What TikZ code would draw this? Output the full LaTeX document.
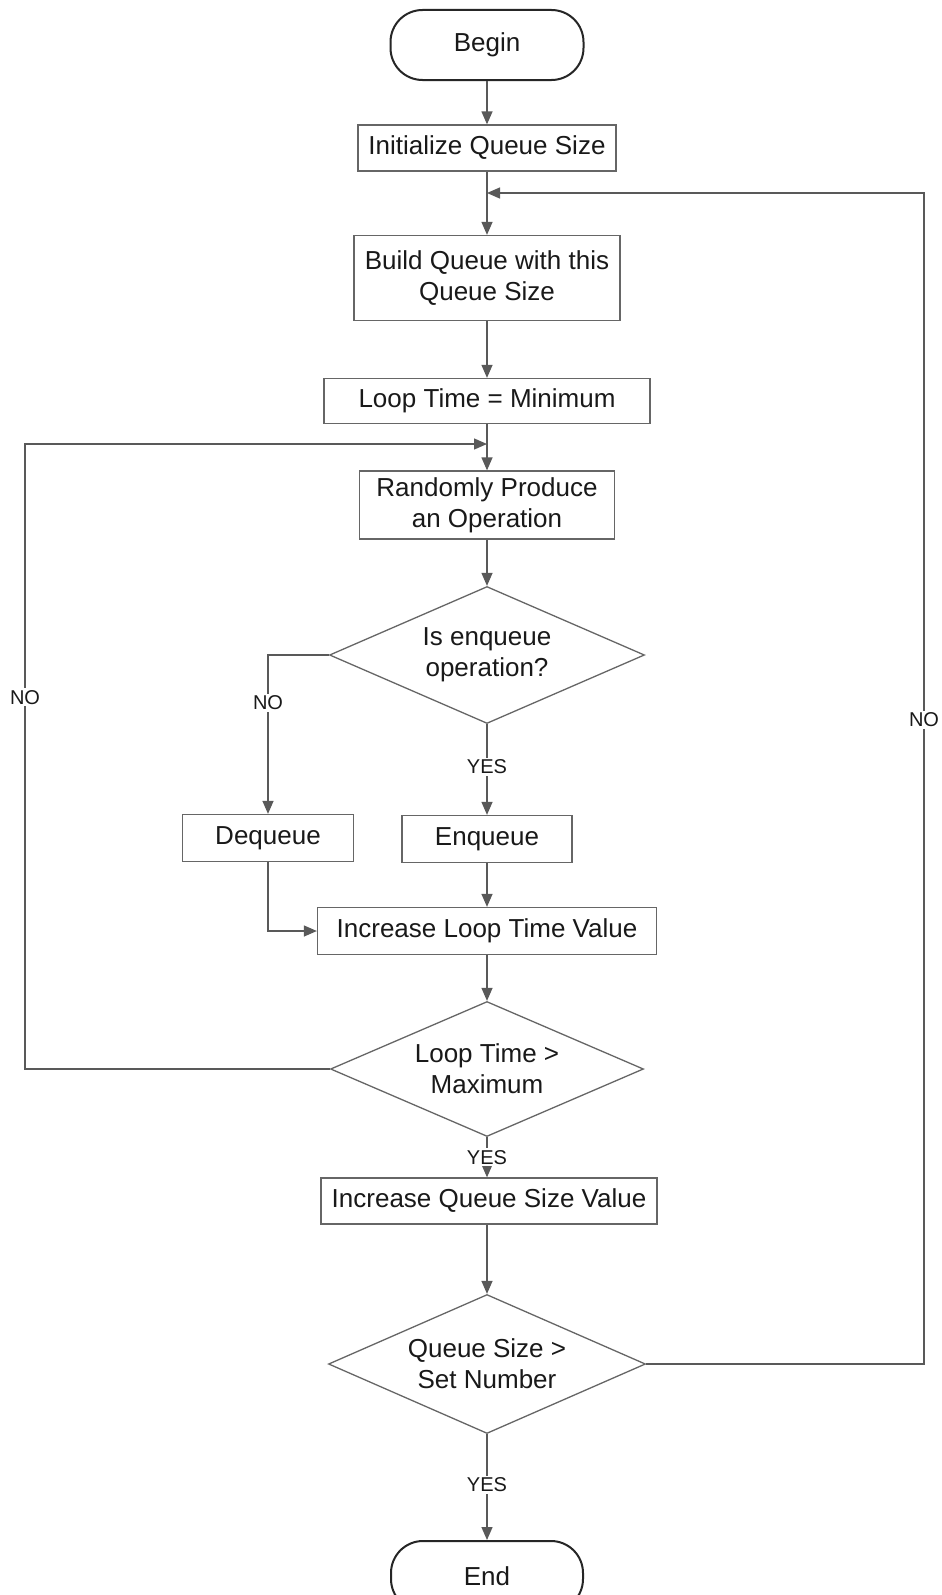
\documentclass[tikz,border=0pt]{standalone}
\usepackage{fontspec}
\setmainfont{Liberation Sans}
\usetikzlibrary{shapes.geometric,arrows.meta}
\begin{document}
\begin{tikzpicture}[x=1pt,y=-1pt,
  every node/.style={font=\fontsize{26}{31}\selectfont, text=black!90, align=center},
  flow/.style={draw=black!65, line width=1.3pt},
  arr/.style={flow, -{Triangle[length=13pt,width=11pt]}},
  terminal/.style={draw=black!85, line width=2pt, rounded corners=32pt, inner sep=0pt},
  procbox/.style={draw=black!60, line width=1.3pt, inner sep=0pt},
  decision/.style={draw=black!60, line width=1.3pt, diamond, aspect=2.3, inner sep=0pt},
  tag/.style={font=\fontsize{20}{24}\selectfont, fill=white, inner sep=2pt}
]
\useasboundingbox (0,0) rectangle (942,1595);
\fill[white] (0,0) rectangle (942,1595);

% process steps, main column on x = 487
\node[terminal, minimum width=193pt, minimum height=70pt] (begin) at (487,45) {Begin};
\node[procbox, minimum width=258pt, minimum height=46pt] (init) at (487,148) {Initialize Queue Size};
\node[procbox, minimum width=266pt, minimum height=85pt] (build) at (487,278) {Build Queue with this\\Queue Size};
\node[procbox, minimum width=326pt, minimum height=45pt] (loopmin) at (487,401) {Loop Time = Minimum};
\node[procbox, minimum width=255pt, minimum height=68pt] (random) at (487,505) {Randomly Produce\\an Operation};
\node[decision, minimum width=315pt, minimum height=137pt] (isenq) at (487,655) {Is enqueue\\operation?};
\node[procbox, minimum width=171pt, minimum height=47pt] (deq) at (268,838) {Dequeue};
\node[procbox, minimum width=170pt, minimum height=47pt] (enq) at (487,839) {Enqueue};
\node[procbox, minimum width=339pt, minimum height=47pt] (incloop) at (487,931) {Increase Loop Time Value};
\node[decision, minimum width=313pt, minimum height=135pt] (loopmax) at (487,1069) {Loop Time \textgreater\\Maximum};
\node[procbox, minimum width=336pt, minimum height=46pt] (incsize) at (489,1201) {Increase Queue Size Value};
\node[decision, minimum width=317pt, minimum height=139pt] (sizemax) at (487,1364) {Queue Size \textgreater\\Set Number};
\node[terminal, minimum width=192pt, minimum height=70pt] (end) at (487,1576) {End};

% junction points of the two feedback loops
\coordinate (jouter) at (487,193);
\coordinate (jinner) at (487,444);
\coordinate (rightx) at (924,0);
\coordinate (leftx) at (25,0);

% main flow
\draw[arr] (begin) -- (init);
\draw[arr] (init) -- (build);
\draw[arr] (build) -- (loopmin);
\draw[arr] (loopmin) -- (random);
\draw[arr] (random) -- (isenq);
\draw[arr] (isenq.west) -| node[tag, pos=0.65] {NO} (deq.north);
\draw[arr] (isenq.south) -- node[tag, pos=0.47] {YES} (enq.north);
\draw[arr] (enq) -- (incloop);
\draw[arr] (deq.south) |- (incloop.west);
\draw[arr] (incloop) -- (loopmax);
\draw[arr] (loopmax.south) -- node[tag, pos=0.5] {YES} (loopmax.south |- incsize.north);
\draw[arr] (incsize.south -| sizemax.north) -- (sizemax.north);
\draw[arr] (sizemax.south) -- node[tag, pos=0.48] {YES} (end.north);

% inner loop back to the operation step
\draw[arr] (loopmax.west) -- (loopmax.west -| leftx) -- node[tag, pos=0.595] {NO} (jinner -| leftx) -- (jinner);
% outer loop back to building the queue
\draw[arr] (sizemax.east) -- (sizemax.east -| rightx) -- node[tag, pos=0.55] {NO} (jouter -| rightx) -- (jouter);
\end{tikzpicture}
\end{document}
